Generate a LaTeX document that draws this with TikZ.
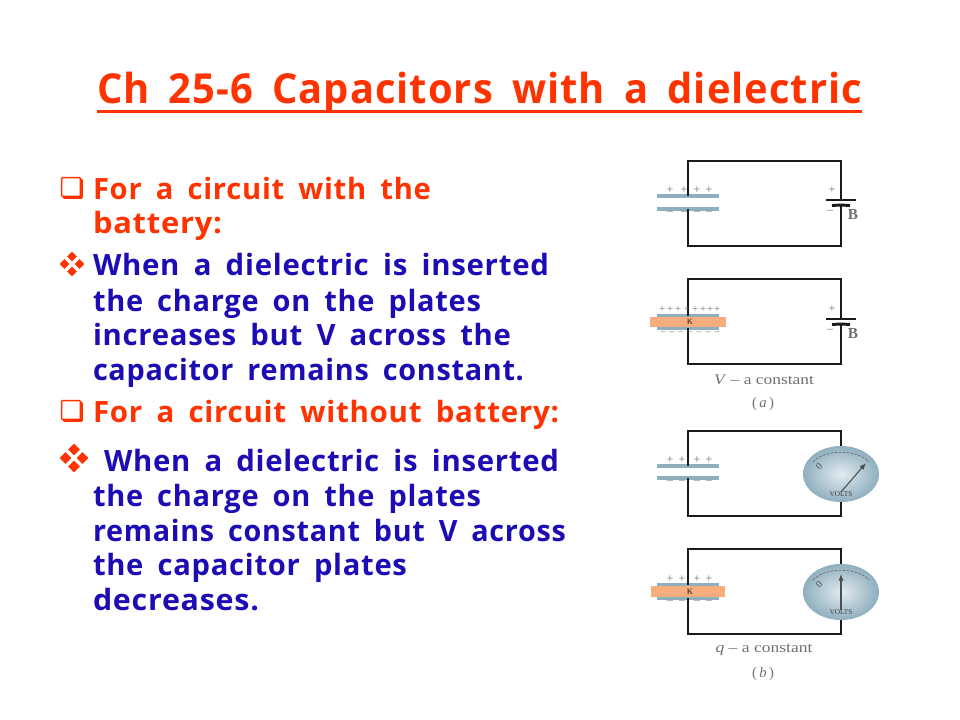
\documentclass[tikz,border=0pt]{standalone}
\usepackage{fontspec}
\usepackage{graphicx}
\setmainfont{Open Sans}[LetterSpace=2.5,WordSpace=1.7]
\newfontfamily\serifgray{Liberation Serif}
\usetikzlibrary{shapes.geometric,arrows.meta}
\definecolor{hot}{HTML}{FF3300}
\definecolor{ink}{HTML}{1C0CB4}
\definecolor{plateblue}{HTML}{8FAFBF}
\definecolor{diel}{HTML}{F7AE7E}
\definecolor{wirec}{HTML}{1A1A1A}
\definecolor{faint}{HTML}{707070}
\newdimen\pxw \pxw=0.75pt
\newcommand{\fitw}[2]{\resizebox{#1\pxw}{\height}{#2}}
\tikzset{
  line/.style={inner sep=0pt,outer sep=0pt,anchor=base west,font=\fontsize{22pt}{24pt}\selectfont\bfseries},
  hotline/.style={line,text=hot},
  inkline/.style={line,text=ink},
  wire/.style={draw=wirec,line width=1.8pt,line join=miter},
  plate/.style={fill=plateblue,inner sep=0pt,outer sep=0pt,minimum width=46.5pt,minimum height=2.8pt,draw=none},
  slab/.style={fill=diel,inner sep=0pt,outer sep=0pt,minimum height=7.6pt,draw=none},
  cell/.style={draw=wirec,line width=1.6pt},
  sign/.style={inner sep=0pt,text=faint,font=\serifgray\fontsize{9pt}{9pt}\selectfont},
  tiny/.style={inner sep=0pt,text=faint,font=\serifgray\fontsize{11pt}{12pt}\selectfont},
  meter/.style={ellipse,inner sep=0pt,minimum width=57pt,minimum height=42pt,inner color=white!75!plateblue,outer color=plateblue,draw=none},
  sqbullet/.style={draw=hot,line width=1.1pt,fill=white,minimum size=14pt,inner sep=0pt,rounded corners=0.6pt},
  dia/.style={diamond,aspect=1,fill=hot,inner sep=0pt,minimum size=#1}
}
\newcommand{\squarebullet}[3]{%
  \node[sqbullet,xshift=1.3pt,yshift=-1.3pt,fill=hot] (#1s) at (#2,#3) {};
  \node[sqbullet] (#1) at (#2,#3) {};
}
\newcommand{\fourbullet}[5]{%
  \node[dia=#5] (#1a) at (#2,#3-#4) {};
  \node[dia=#5] (#1b) at (#2,#3+#4) {};
  \node[dia=#5] (#1c) at (#2-#4,#3) {};
  \node[dia=#5] (#1d) at (#2+#4,#3) {};
}
\newcommand{\batterycell}[2]{%
  \node[inner sep=0pt] (#1long) at (841,#2) {};
  \node[inner sep=0pt] (#1short) at (841,#2+5) {};
  \draw[cell] (826,#2) -- (#1long.center) -- (856,#2);
  \draw[cell,line width=2.2pt] (832,#2+5.5) -- (#1short.center) -- (850,#2+5.5);
  \node[sign] (#1plus) at (832,#2-10) {+};
  \node[sign] (#1minus) at (830,#2+12) {–};
  \node[tiny,font=\serifgray\fontsize{11.5pt}{12pt}\selectfont\bfseries] (#1B) at (853,#2+15) {B};
}
\newcommand{\dial}[4]{%
  \node[meter] (#1) at (841,#2) {};
  \draw[faint,line width=0.6pt,dash pattern=on 2pt off 1pt] (813,#2-12) .. controls (825,#2-25) and (857,#2-25) .. (869,#2-12);
  \draw[draw=faint!70!black,line width=0.8pt,-{Latex[length=5pt,width=4pt]}] (841,#2+18) -- (#3,#4);
  \node[tiny,rotate=45,font=\serifgray\fontsize{7.5pt}{8pt}\selectfont,text=black!70] (#1u) at (819,#2-8) {0};
  \node[tiny,font=\serifgray\fontsize{5.5pt}{6pt}\selectfont,text=black!75] (#1v) at (841,#2+20) {VOLTS};
}
\begin{document}
\begin{tikzpicture}[x=0.75pt,y=-0.75pt]
\useasboundingbox (0,0) rectangle (960,720);
\fill[white] (0,0) rectangle (960,720);

% title
\node[line,text=hot,font=\fontsize{31pt}{34pt}\selectfont\bfseries] (title) at (97,103.5) {\fitw{765}{Ch 25-6 Capacitors with a dielectric}};
\coordinate (ulL) at (97,111.5);
\coordinate (ulR) at (862,111.5);
\draw[hot,line width=2.8pt] (ulL) -- (ulR);

% bullets
\squarebullet{b1}{71}{187}
\fourbullet{b2}{72}{264}{7.5}{7.5pt}
\squarebullet{b3}{71}{410}
\fourbullet{b4}{74}{458}{8.5}{9pt}

% text
\node[hotline] (t1) at (93,200) {\fitw{338}{For a circuit with the}};
\node[hotline] (t2) at (93,234) {\fitw{129}{battery:}};
\node[inkline] (t3) at (93,276) {\fitw{456}{When a dielectric is inserted}};
\node[inkline] (t4) at (93,311) {\fitw{388}{the charge on the plates}};
\node[inkline] (t5) at (93,345) {\fitw{418}{increases but V across the}};
\node[inkline] (t6) at (93,380) {\fitw{431}{capacitor remains constant.}};
\node[hotline] (t7) at (93,422) {\fitw{466}{For a circuit without battery:}};
\node[inkline] (t8) at (104,471) {\fitw{455}{When a dielectric is inserted}};
\node[inkline] (t9) at (93,506) {\fitw{388}{the charge on the plates}};
\node[inkline] (t10) at (93,541) {\fitw{473}{remains constant but V across}};
\node[inkline] (t11) at (93,575) {\fitw{314}{the capacitor plates}};
\node[inkline] (t12) at (93,610) {\fitw{166}{decreases.}};

% circuit 1
\node[plate] (p1t) at (688,196) {};
\node[plate] (p1b) at (688,209) {};
\batterycell{c1}{200}
\draw[wire] (p1t.center) -- (688,161) -- (841,161) -- (c1long.center);
\draw[wire] (c1short.center) -- (841,246) -- (688,246) -- (p1b.center);
\foreach \x [count=\i] in {670,684,697,709}{
  \node[sign] (p1s\i) at (\x,190) {+};
  \node[sign] (p1m\i) at (\x,212.5) {–};
}

% circuit 2
\node[plate] (p2t) at (688,316) {};
\node[plate] (p2b) at (688,328) {};
\draw[wire] (p2t.center) -- (688,279) -- (841,279) -- (841,319);
\draw[wire] (841,324) -- (841,364) -- (688,364) -- (p2b.center);
\node[slab,minimum width=57pt] (s2) at (688,322) {};
\node[sign,text=black!75!diel] (k2) at (690,322) {κ};
\batterycell{c2}{319}
\foreach \x [count=\i] in {662,670,678,687,695,703,710,717}{
  \node[sign,font=\serifgray\fontsize{8pt}{8pt}\selectfont] (p2s\i) at (\x,309) {+};
}
\foreach \x [count=\i] in {663,672,681,690,699,708,717}{
  \node[sign,font=\serifgray\fontsize{7pt}{7pt}\selectfont] (p2m\i) at (\x,333) {–};
}
\node[tiny] (cap1) at (764,380) {\fitw{100}{\textit{V} – a constant}};
\node[tiny] (lab1) at (763,404) {(\,\textit{a}\,)};

% circuit 3
\node[plate] (p3t) at (688,466) {};
\node[plate] (p3b) at (688,478) {};
\draw[wire] (p3t.center) -- (688,431) -- (841,431) -- (841,450);
\draw[wire] (841,500) -- (841,516) -- (688,516) -- (p3b.center);
\dial{m3}{474}{866}{463}
\foreach \x [count=\i] in {670,682,697,709}{
  \node[sign] (p3s\i) at (\x,460) {+};
  \node[sign] (p3m\i) at (\x,482) {–};
}

% circuit 4
\node[plate] (p4t) at (688,585) {};
\node[plate] (p4b) at (688,598) {};
\draw[wire] (p4t.center) -- (688,549) -- (841,549) -- (841,568);
\draw[wire] (841,618) -- (841,634) -- (688,634) -- (p4b.center);
\node[slab,minimum width=55pt] (s4) at (688,591.5) {};
\node[sign,text=black!75!diel] (k4) at (690,591.5) {κ};
\dial{m4}{592}{841}{574}
\foreach \x [count=\i] in {670,682,697,709}{
  \node[sign] (p4s\i) at (\x,579) {+};
  \node[sign] (p4m\i) at (\x,602) {–};
}
\node[tiny] (cap2) at (764,650) {\fitw{97}{\textit{q} – a constant}};
\node[tiny] (lab2) at (763,674) {(\,\textit{b}\,)};
\end{tikzpicture}
\end{document}
